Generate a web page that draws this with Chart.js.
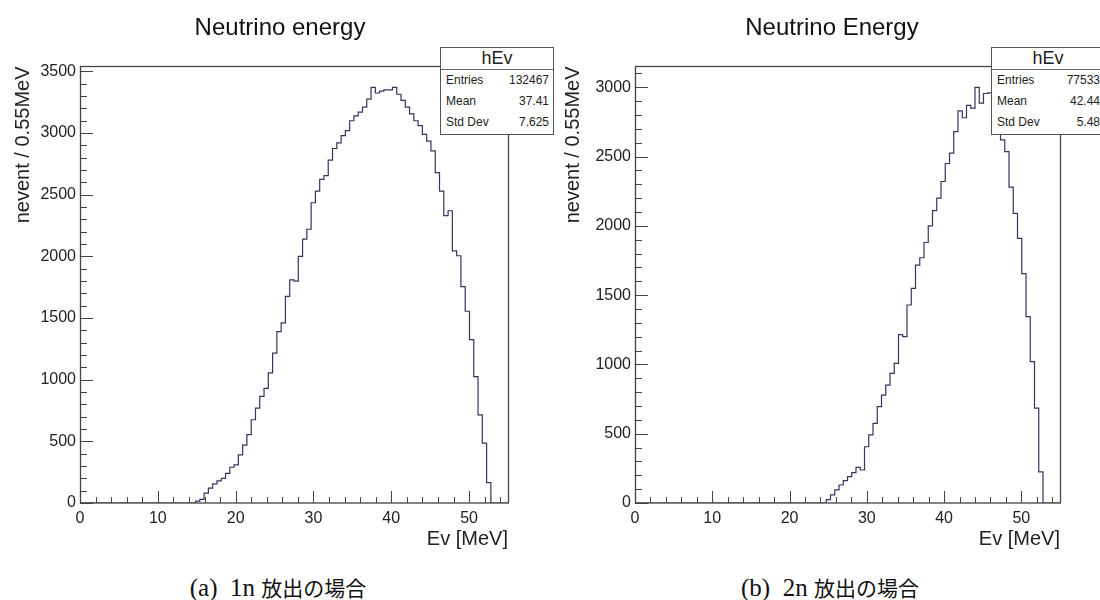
<!DOCTYPE html>
<html lang="ja">
<head>
<meta charset="utf-8">
<title>Neutrino energy</title>
<script src="https://cdn.jsdelivr.net/npm/chart.js@4.4.1/dist/chart.umd.min.js"></script>
<style>
  html, body { margin: 0; padding: 0; background: #fff; }
  body { position: relative; width: 1100px; height: 600px; overflow: hidden; font-family: 'Liberation Sans', Arial, sans-serif; }
  canvas { position: absolute; top: 0; }
  #c1n { left: 0; }
  #c2n { left: 550px; }
  .stats { position: absolute; top: 47px; width: 114px; height: 88px; box-sizing: border-box; border: 1.5px solid #555; background: #fff; color: #222; z-index: 2; }
  .stats .head { height: 21px; line-height: 21px; text-align: center; font-size: 18px; border-bottom: 1px solid #666; }
  .stats .row { display: flex; justify-content: space-between; height: 21px; line-height: 21px; font-size: 12px; padding: 0 4px 0 5px; }
  .caption { position: absolute; top: 572px; width: 320px; height: 26px; line-height: 26px; text-align: center; font: 25px 'Liberation Serif', serif; color: #111; white-space: nowrap; }
  .caption .ja { font: 21px 'Noto Sans CJK JP', sans-serif; }
</style>
</head>
<body>
<canvas id="c1n" width="560" height="560"></canvas>
<canvas id="c2n" width="564" height="560"></canvas>
<div class="stats" id="s1n" style="left:440px"></div>
<div class="stats" id="s2n" style="left:991px"></div>
<div class="caption" style="left:118px">(a)&nbsp;&nbsp;1n <span class="ja">放出の場合</span></div>
<div class="caption" style="left:670px">(b)&nbsp;&nbsp;2n <span class="ja">放出の場合</span></div>

<script>
// Histogram binning: 100 bins of 0.55 MeV between 0 and 55 MeV
const binWidth = 0.55;
const xMax = 55;

// Bin contents, 1n emission
const counts1n = [
  0, 0, 0, 0, 0, 0, 0, 0, 0, 0,
  0, 0, 0, 0, 0, 0, 0, 0, 0, 0,
  0, 0, 0, 0, 0, 0, 0, 15, 30, 80,
  120, 155, 180, 200, 240, 290, 310, 390, 470, 555,
  675, 770, 865, 930, 1055, 1215, 1390, 1460, 1675, 1810,
  1800, 2000, 2140, 2220, 2435, 2530, 2625, 2655, 2780, 2875,
  2920, 2980, 3020, 3100, 3140, 3170, 3210, 3275, 3370, 3325,
  3340, 3350, 3350, 3370, 3315, 3265, 3210, 3155, 3100, 3060,
  2990, 2935, 2855, 2680, 2530, 2330, 2370, 2045, 2005, 1755,
  1555, 1325, 1025, 715, 485, 165, 0, 0, 0, 0
];

// Bin contents, 2n emission
const counts2n = [
  0, 0, 0, 0, 0, 0, 0, 0, 0, 0,
  0, 0, 0, 0, 0, 0, 0, 0, 0, 0,
  0, 0, 0, 0, 0, 0, 0, 0, 0, 0,
  0, 0, 0, 0, 0, 0, 0, 0, 0, 0,
  0, 0, 0, 0, 0, 25, 58, 94, 130, 161,
  190, 219, 257, 238, 406, 491, 575, 695, 779, 851,
  936, 1008, 1215, 1200, 1429, 1549, 1717, 1770, 1880, 2000,
  2110, 2200, 2320, 2450, 2525, 2680, 2830, 2780, 2870, 2850,
  3000, 2885, 2955, 2960, 2940, 2780, 2620, 2535, 2280, 2090,
  1910, 1655, 1345, 1020, 685, 225, 0, 0, 0, 0
];

// Labelled tick values
const xTicks = [0, 10, 20, 30, 40, 50];
const yTicks1n = [0, 500, 1000, 1500, 2000, 2500, 3000, 3500];
const yTicks2n = [0, 500, 1000, 1500, 2000, 2500, 3000];

// Stats box contents
const statsLabels = ['Entries', 'Mean', 'Std Dev'];
const stats1n = ['132467', '37.41', '7.625'];
const stats2n = ['77533', '42.44', '5.48'];

// Axis divisions (ROOT style: labelled major, unlabelled minor)
const xMajor = 10, xMinor = 2;
const yMajor = 500, yMinor = 100;

Chart.defaults.font.family = "'Liberation Sans', Arial, sans-serif";

// Frame box plus inward-pointing tick marks, like a ROOT TFrame
const rootFrame = {
  id: 'rootFrame',
  afterDraw(chart) {
    const { ctx, chartArea: a, scales: { x, y } } = chart;
    ctx.save();
    ctx.strokeStyle = '#444';
    ctx.lineWidth = 1;
    ctx.beginPath();
    for (let v = 0; v <= x.max + 1e-9; v += xMinor) {
      const px = Math.round(x.getPixelForValue(v)) + 0.5;
      const len = v % xMajor === 0 ? 12 : 6;
      ctx.moveTo(px, a.bottom);
      ctx.lineTo(px, a.bottom - len);
    }
    for (let v = 0; v <= y.max; v += yMinor) {
      const py = Math.round(y.getPixelForValue(v)) + 0.5;
      const len = v % yMajor === 0 ? 13 : 7;
      ctx.moveTo(a.left, py);
      ctx.lineTo(a.left + len, py);
    }
    ctx.stroke();
    ctx.lineWidth = 1.3;
    ctx.strokeRect(a.left + 0.5, a.top, a.right - a.left, a.bottom - a.top);
    ctx.restore();
  }
};

function histPoints(counts) {
  const pts = counts.map((n, i) => ({ x: i * binWidth, y: n }));
  pts.push({ x: counts.length * binWidth, y: counts[counts.length - 1] });
  return pts;
}

// An empty right-hand scale (margin) keeps the frame clear of the right edge
// while the pad title stays centred on the whole canvas.
function makeHistogram(id, counts, title, yMax, yTicks, yAxisWidth, rightMargin) {
  return new Chart(document.getElementById(id), {
    type: 'line',
    data: {
      datasets: [{
        data: histPoints(counts),
        stepped: true,
        borderColor: '#34345e',
        borderWidth: 1.2,
        pointRadius: 0,
        fill: false
      }]
    },
    options: {
      responsive: false,
      animation: false,
      layout: { padding: 0 },
      plugins: {
        legend: { display: false },
        tooltip: { enabled: false },
        title: {
          display: true,
          text: title,
          color: '#111',
          font: { size: 24, weight: 'normal' },
          padding: { top: 14, bottom: 23.7 }
        }
      },
      scales: {
        x: {
          type: 'linear',
          min: 0,
          max: xMax,
          grid: { display: false, drawTicks: false },
          border: { display: false },
          ticks: { autoSkip: false, padding: 6, color: '#222', font: { size: 16 }, callback: v => String(v) },
          afterBuildTicks: s => { s.ticks = xTicks.map(v => ({ value: v })); },
          afterFit: s => { s.height = 57; },
          title: {
            display: true,
            text: 'Ev [MeV]',
            align: 'end',
            color: '#222',
            font: { size: 20 },
            padding: { top: 0, bottom: 9 }
          }
        },
        y: {
          type: 'linear',
          min: 0,
          max: yMax,
          grid: { display: false, drawTicks: false },
          border: { display: false },
          ticks: { autoSkip: false, padding: 4, color: '#222', font: { size: 16 }, callback: v => String(v) },
          afterBuildTicks: s => { s.ticks = yTicks.map(v => ({ value: v })); },
          afterFit: s => { s.width = yAxisWidth; },
          title: {
            display: true,
            text: 'nevent / 0.55MeV',
            align: 'end',
            color: '#222',
            font: { size: 20 },
            padding: { top: 11.5, bottom: 0 }
          }
        },
        margin: {
          type: 'linear',
          position: 'right',
          grid: { display: false, drawTicks: false },
          border: { display: false },
          ticks: { display: false },
          afterFit: s => { s.width = rightMargin; }
        }
      }
    },
    plugins: [rootFrame]
  });
}

function fillStats(id, values) {
  const box = document.getElementById(id);
  const head = document.createElement('div');
  head.className = 'head';
  head.textContent = 'hEv';
  box.appendChild(head);
  statsLabels.forEach((label, i) => {
    const row = document.createElement('div');
    row.className = 'row';
    row.innerHTML = '<span>' + label + '</span><span>' + values[i] + '</span>';
    box.appendChild(row);
  });
}

makeHistogram('c1n', counts1n, 'Neutrino energy', 3540, yTicks1n, 80, 52);
makeHistogram('c2n', counts2n, 'Neutrino Energy', 3150, yTicks2n, 85, 54);
fillStats('s1n', stats1n);
fillStats('s2n', stats2n);
</script>
</body>
</html>
